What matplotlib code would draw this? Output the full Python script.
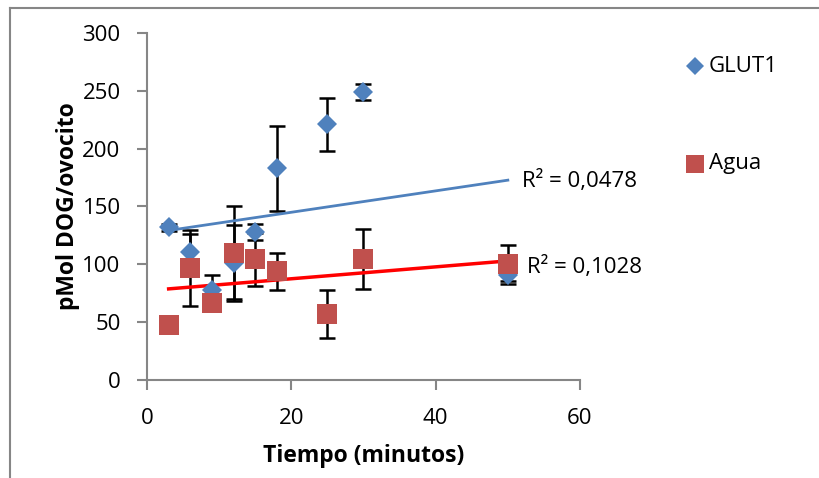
import numpy as np
import matplotlib
matplotlib.use("Agg")
import matplotlib.pyplot as plt
from matplotlib.lines import Line2D

plt.rcParams['font.family'] = ['Open Sans', 'DejaVu Sans']

tiempo = [3, 6, 9, 12, 15, 18, 25, 30, 50]
glut1 = [132, 111, 78, 101, 128, 183, 221, 249, 91]
glut1_err = [3, 15, 13, 33, 7, 37, 23, 7, 5]
agua = [47.5, 97, 67, 110, 104.5, 94, 57, 104.5, 100]
agua_err = [3, 33, 5, 40, 23, 16, 21, 26, 17]
r2_labels = ["R² = 0,0478", "R² = 0,1028"]
series_names = ["GLUT1", "Agua"]
xticks = [0, 20, 40, 60]
yticks = [0, 50, 100, 150, 200, 250, 300]

blue = "#4F81BD"
red = "#C0504D"
gray = "#868686"
FS = 16

fig = plt.figure(figsize=(8.2, 4.78), dpi=100)
ax = fig.add_axes([147/820, 1-380/478, (580-147)/820, (380-33)/478])

x = np.array(tiempo, dtype=float)

# error bars
ax.errorbar(x, glut1, yerr=glut1_err, fmt='none', ecolor='black', elinewidth=1.8,
            capsize=6, capthick=1.8, zorder=2)
ax.errorbar(x, agua, yerr=agua_err, fmt='none', ecolor='black', elinewidth=1.8,
            capsize=6, capthick=1.8, zorder=2)

# trendlines
xs = np.array([x.min(), x.max()])
p1 = np.polyfit(x, glut1, 1)
p2 = np.polyfit(x, agua, 1)
ax.plot(xs, np.polyval(p1, xs), color=blue, lw=2.0, zorder=2.5)
ax.plot(xs, np.polyval(p2, xs), color="#FF0000", lw=2.5, zorder=2.5)

# markers
ax.plot(x, glut1, linestyle='none', marker='D', markersize=10, color=blue,
        markeredgewidth=0, zorder=3)
ax.plot(x, agua, linestyle='none', marker='s', markersize=14, color=red,
        markeredgewidth=0, zorder=4)

# R2 labels
ax.text(52.0, np.polyval(p1, 50) - 1, r2_labels[0], fontsize=FS, va='center', ha='left', clip_on=False)
ax.text(52.7, np.polyval(p2, 50) - 5, r2_labels[1], fontsize=FS, va='center', ha='left', clip_on=False)

ax.set_xlim(0, 60)
ax.set_ylim(0, 300)
ax.set_xticks(xticks)
ax.set_yticks(yticks)
for s in ['top', 'right']:
    ax.spines[s].set_visible(False)
for s in ['left', 'bottom']:
    ax.spines[s].set_color(gray)
    ax.spines[s].set_linewidth(1.5)
ax.tick_params(axis='both', colors=gray, labelcolor='black', labelsize=FS,
               length=7, width=1.5, direction='out')
ax.tick_params(axis='x', pad=13)
ax.tick_params(axis='y', pad=12)
ax.set_xlabel("Tiempo (minutos)", fontsize=16.5, fontweight='bold', labelpad=11)
ax.set_ylabel("pMol DOG/ovocito", fontsize=16.5, fontweight='bold', labelpad=2)

# legend (manual, figure coords)
fig.add_artist(Line2D([695/820], [1-66/478], marker='D', markersize=9, color=blue,
                      markeredgewidth=0, linestyle='none', transform=fig.transFigure))
fig.text(709/820, 1-66/478, series_names[0], fontsize=FS, va='center', ha='left')
fig.add_artist(Line2D([695/820], [1-164/478], marker='s', markersize=12.5, color=red,
                      markeredgewidth=0, linestyle='none', transform=fig.transFigure))
fig.text(709/820, 1-164/478, series_names[1], fontsize=FS, va='center', ha='left')

# outer frame (left and top edges visible)
fig.add_artist(Line2D([10/820, 10/820], [0, 1-8/478], color=gray, lw=1.5, transform=fig.transFigure))
fig.add_artist(Line2D([10/820, 1], [1-8/478, 1-8/478], color=gray, lw=1.5, transform=fig.transFigure))

fig.savefig("out.png", dpi=100)
